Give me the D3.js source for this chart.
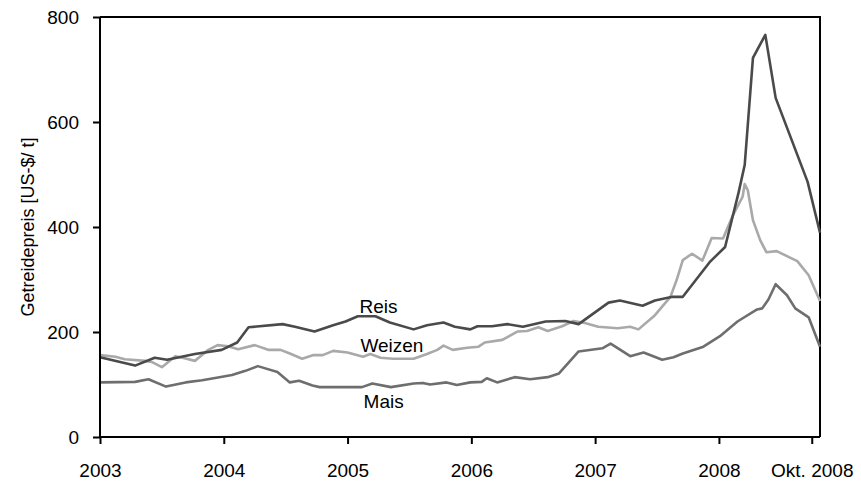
<!DOCTYPE html>
<html>
<head>
<meta charset="utf-8">
<script src="https://cdn.jsdelivr.net/npm/d3@7"></script>
<style>
  html, body { margin: 0; padding: 0; background: #fff; }
  svg { display: block; font-family: "Liberation Sans", Arial, Helvetica, sans-serif; }
</style>
</head>
<body>
<svg id="chart" width="861" height="484"></svg>
<script>
// Months since January 2003 (data time axis) and prices in US-$/t
const reisMonths = [0, 3.4, 5.3, 6.5, 9.2, 11.8, 13.3, 14.4, 17.7, 18.9, 20.8, 22.6, 23.8, 25.0, 26.7, 28.1, 30.4, 31.7, 33.3, 34.4, 35.9, 36.6, 38.0, 39.5, 41.0, 43.2, 45.1, 46.4, 49.3, 50.4, 52.6, 53.8, 55.5, 56.5, 59.1, 60.6, 61.9, 62.5, 63.3, 64.5, 65.5, 68.6, 69.8];
const reisValues = [152, 136, 151, 147, 158, 166, 180, 209, 215, 210, 201, 213, 220, 230, 230, 218, 205, 213, 218, 210, 205, 211, 211, 215, 210, 220, 221, 215, 256, 260, 250, 260, 267, 267, 333, 362, 465, 518, 722, 766, 646, 486, 389];

const weizenMonths = [0, 1.5, 2.4, 4.4, 5.0, 6.0, 7.3, 8.2, 9.2, 10.5, 11.4, 12.4, 13.4, 15.0, 16.3, 17.5, 18.4, 19.6, 20.7, 21.6, 22.6, 24.0, 25.5, 26.2, 27.2, 28.4, 30.4, 31.7, 32.7, 33.3, 34.2, 35.6, 36.7, 37.3, 39.0, 40.5, 41.4, 42.5, 43.4, 44.8, 45.9, 47.0, 48.3, 50.2, 51.4, 52.2, 53.8, 55.3, 55.9, 56.5, 57.4, 58.4, 59.3, 60.4, 61.3, 62.3, 62.5, 62.8, 63.3, 64.0, 64.6, 65.6, 67.6, 68.7, 69.8];
const weizenValues = [156, 153, 148, 145, 143, 133, 154, 150, 145, 166, 175, 173, 167, 175, 166, 166, 159, 149, 156, 156, 164, 161, 153, 158, 151, 149, 149, 158, 166, 174, 166, 170, 172, 180, 185, 201, 202, 209, 202, 211, 221, 217, 210, 207, 210, 205, 232, 267, 299, 337, 349, 336, 379, 378, 420, 458, 482, 470, 413, 375, 352, 354, 335, 308, 259];

const maisMonths = [0, 3.4, 4.7, 6.4, 8.3, 9.9, 11.3, 12.8, 14.1, 15.3, 17.2, 18.4, 19.3, 20.6, 21.3, 23.3, 25.4, 26.4, 28.2, 30.4, 31.3, 32.0, 33.6, 34.6, 35.9, 37.0, 37.5, 38.5, 40.2, 41.7, 43.4, 44.5, 46.4, 48.7, 49.5, 51.4, 52.7, 54.5, 55.6, 56.5, 58.5, 60.1, 61.8, 63.7, 64.2, 64.8, 65.5, 66.6, 67.4, 68.7, 69.8];
const maisValues = [104, 105, 110, 96, 104, 108, 113, 118, 126, 135, 124, 104, 107, 98, 95, 95, 95, 102, 95, 102, 103, 100, 104, 99, 104, 105, 112, 104, 114, 110, 114, 121, 163, 169, 178, 154, 161, 147, 152, 159, 172, 192, 220, 243, 245, 262, 291, 270, 245, 228, 172];

const xTickMonths = [0, 12, 24, 36, 48, 60, 69];
const xTickLabels = ["2003", "2004", "2005", "2006", "2007", "2008", "Okt. 2008"];
const yTicks = [0, 200, 400, 600, 800];
const seriesNames = ["Reis", "Weizen", "Mais"];
const seriesColors = ["#4a4a4a", "#a9a9a9", "#6e6e6e"];
const labelMonths = [27.0, 28.3, 27.5];
const labelValues = [236, 162, 55];
const yTitle = "Getreidepreis [US-$/ t]";

(function () {
const svg = d3.select("#chart");
const mL = 100, mR = 820, mT = 17, mB = 437;

const x = d3.scaleLinear().domain([0, 69.8]).range([mL, mR]);
const y = d3.scaleLinear().domain([0, 800]).range([mB, mT]);

const series = [
  { name: seriesNames[0], months: reisMonths, values: reisValues, color: seriesColors[0] },
  { name: seriesNames[1], months: weizenMonths, values: weizenValues, color: seriesColors[1] },
  { name: seriesNames[2], months: maisMonths, values: maisValues, color: seriesColors[2] }
];

// frame (top & right)
svg.append("path")
  .attr("d", `M${mL},${mT}H${mR}V${mB}`)
  .attr("fill", "none").attr("stroke", "#000").attr("stroke-width", 2);

const line = d3.line().x(d => x(d[0])).y(d => y(d[1]));

// draw order: Mais, Weizen, Reis
[2, 1, 0].forEach(i => {
  const s = series[i];
  const pts = s.months.map((m, k) => [m, s.values[k]]);
  svg.append("path")
    .datum(pts)
    .attr("d", line)
    .attr("fill", "none")
    .attr("stroke", s.color)
    .attr("stroke-width", 2.6)
    .attr("stroke-linejoin", "round");
});

// axes
const xAxis = d3.axisBottom(x)
  .tickValues(xTickMonths)
  .tickFormat((d, i) => xTickLabels[i])
  .tickSize(7).tickSizeOuter(0).tickPadding(20);
const gx = svg.append("g").attr("transform", `translate(0,${mB})`).call(xAxis);

const yAxis = d3.axisLeft(y)
  .tickValues(yTicks)
  .tickFormat(d3.format("d"))
  .tickSize(7).tickSizeOuter(0).tickPadding(14);
const gy = svg.append("g").attr("transform", `translate(${mL},0)`).call(yAxis);

[gx, gy].forEach(g => {
  g.select(".domain").attr("stroke", "#000").attr("stroke-width", 2);
  g.selectAll(".tick line").attr("stroke", "#000").attr("stroke-width", 2);
  g.selectAll(".tick text")
    .attr("fill", "#000")
    .style("font-size", "19px")
    .style("font-family", '"Liberation Sans", Arial, Helvetica, sans-serif');
});
gx.select(".domain").attr("d", `M${mL},0H${mR}`);
gy.select(".domain").attr("d", `M0,${mB}V${mT}`);

// y title
svg.append("text")
  .attr("transform", `translate(34,${(mT + mB) / 2}) rotate(-90)`)
  .attr("text-anchor", "middle")
  .style("font-size", "18px")
  .attr("fill", "#000")
  .text(yTitle);

// series labels
series.forEach((s, i) => {
  svg.append("text")
    .attr("x", x(labelMonths[i]))
    .attr("y", y(labelValues[i]))
    .attr("text-anchor", "middle")
    .style("font-size", "19px")
    .attr("fill", "#000")
    .text(s.name);
});
})();
</script>
</body>
</html>
